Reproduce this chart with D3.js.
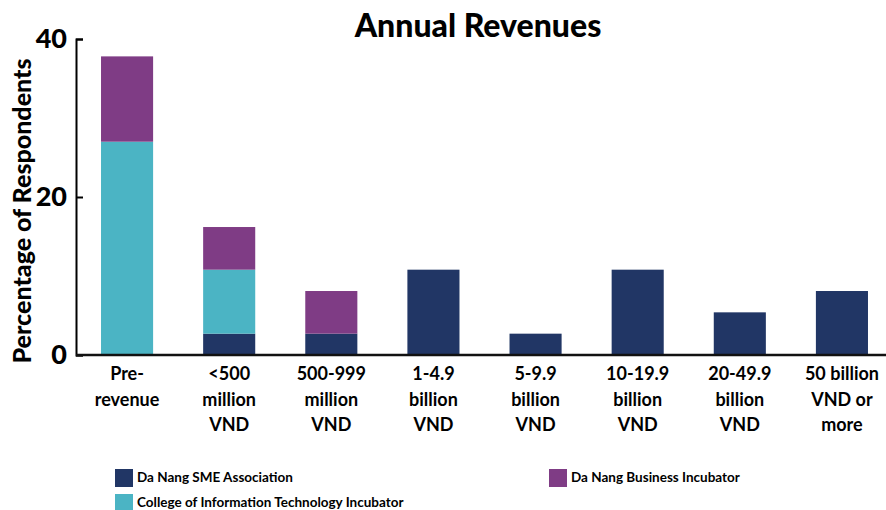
<!DOCTYPE html>
<html>
<head>
<meta charset="utf-8">
<script src="https://cdn.jsdelivr.net/npm/d3@7"></script>
<style>
  body { margin: 0; background: #fff; }
  svg { display: block; font-family: Lato, "Open Sans", sans-serif; }
</style>
</head>
<body>
<svg id="chart" width="886" height="510"></svg>
<script>
// Revenue bands (multi-line tick labels)
const categories = [
  ["Pre-", "revenue"],
  ["<500", "million", "VND"],
  ["500-999", "million", "VND"],
  ["1-4.9", "billion", "VND"],
  ["5-9.9", "billion", "VND"],
  ["10-19.9", "billion", "VND"],
  ["20-49.9", "billion", "VND"],
  ["50 billion", "VND or", "more"]
];
const seriesNames = ["Da Nang SME Association", "College of Information Technology Incubator", "Da Nang Business Incubator"];
const smeAssociation   = [0, 2.7, 2.7, 10.8, 2.7, 10.8, 5.4, 8.1];
const itIncubator      = [27.0, 8.1, 0, 0, 0, 0, 0, 0];
const businessIncubator = [10.8, 5.4, 5.4, 0, 0, 0, 0, 0];
const yTicks = [0, 20, 40];
const colors = ["#213665", "#4BB4C4", "#7F3C85"];

const svg = d3.select("#chart");
const x = d3.scaleBand().domain(d3.range(categories.length)).range([76, 893]).paddingInner(0.49).paddingOuter(0.245);
const y = d3.scaleLinear().domain([0, 40]).range([355, 39]);

// stack the three groups
const rows = categories.map((c, i) => ({ i, s0: smeAssociation[i], s1: itIncubator[i], s2: businessIncubator[i] }));
const stacked = d3.stack().keys(["s0", "s1", "s2"])(rows);

svg.append("g").selectAll("g").data(stacked).join("g")
  .attr("fill", (d, k) => colors[k])
  .selectAll("rect").data(d => d.filter(p => p[1] > p[0])).join("rect")
  .attr("x", d => x(d.data.i))
  .attr("width", x.bandwidth())
  .attr("y", d => y(d[1]))
  .attr("height", d => y(d[0]) - y(d[1]));

// y axis
const yAxis = svg.append("g").attr("transform", "translate(76,0)")
  .call(d3.axisLeft(y).tickValues(yTicks).tickSizeInner(-7).tickSizeOuter(-7).tickPadding(9));
yAxis.select(".domain").attr("stroke", "#000").attr("stroke-width", 2);
yAxis.selectAll(".tick line").attr("stroke", "#000").attr("stroke-width", 2);
yAxis.selectAll(".tick text").attr("font-size", 27).attr("font-weight", 900).attr("fill", "#000").attr("font-family", "Lato, sans-serif");

// x axis baseline
svg.append("line").attr("x1", 76).attr("x2", 886).attr("y1", y(0)).attr("y2", y(0))
  .attr("stroke", "#111").attr("stroke-width", 2.5);

// x tick labels
const xl = svg.append("g").selectAll("text").data(categories).join("text")
  .attr("text-anchor", "middle")
  .attr("font-size", 18).attr("font-weight", 700).attr("fill", "#000")
  .attr("transform", (d, i) => `translate(${x(i) + x.bandwidth() / 2},0)`);
xl.selectAll("tspan").data(d => d).join("tspan")
  .attr("x", 0).attr("y", (d, j) => 380 + j * 25.5).text(d => d);

// title
svg.append("text").attr("x", 478).attr("y", 37).attr("text-anchor", "middle")
  .attr("font-size", 32).attr("font-weight", 900).text("Annual Revenues");

// y axis title
svg.append("text").attr("transform", "translate(31,211) rotate(-90)")
  .attr("text-anchor", "middle").attr("font-size", 25).attr("font-weight", 900)
  .text("Percentage of Respondents");

// legend
const legendPos = [[115, 469], [115, 494], [549, 469]];
const lg = svg.append("g").selectAll("g").data(seriesNames).join("g")
  .attr("transform", (d, i) => `translate(${legendPos[i][0]},${legendPos[i][1]})`);
lg.append("rect").attr("width", 18).attr("height", 18).attr("fill", (d, i) => colors[i]);
lg.append("text").attr("x", 22).attr("y", 13).attr("font-size", 13.5).attr("font-weight", 700).text(d => d);
</script>
</body>
</html>
